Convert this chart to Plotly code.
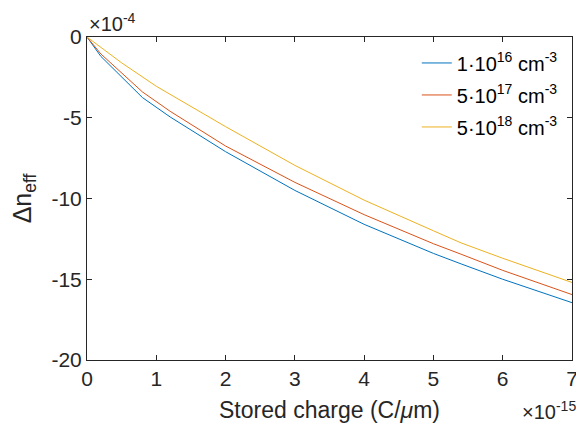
import plotly.graph_objects as go

# Stored charge (x 1e-15 C/um)
charge = [0, 0.2, 0.8, 1.2, 2, 3, 4, 5, 5.4, 6, 7]
# Delta n_eff (x 1e-4)
dn_1e16 = [0, -1.2, -3.75, -4.95, -7.1, -9.5, -11.6, -13.4, -14.05, -15.0, -16.45]
dn_5e17 = [0, -1.05, -3.4, -4.6, -6.75, -9.0, -11.0, -12.8, -13.45, -14.45, -15.95]
charge_y = [0, 0.5, 1, 2, 3, 4, 5, 5.4, 6, 7]
dn_5e18 = [0, -1.6, -3.05, -5.55, -7.95, -10.1, -12.0, -12.75, -13.7, -15.2]

names = ["1·10<sup>16</sup> cm<sup>-3</sup>", "5·10<sup>17</sup> cm<sup>-3</sup>", "5·10<sup>18</sup> cm<sup>-3</sup>"]
colors = ["#0072BD", "#D95319", "#EDB120"]

x_ticks = [0, 1, 2, 3, 4, 5, 6, 7]
y_ticks = [0, -5, -10, -15, -20]

fig = go.Figure()
for i, (xs, ys, nm, c) in enumerate([(charge, dn_1e16, names[0], colors[0]),
                                     (charge, dn_5e17, names[1], colors[1]),
                                     (charge_y, dn_5e18, names[2], colors[2])]):
    fig.add_trace(go.Scatter(x=xs, y=ys, mode="lines", name=nm, legendgroup=f"g{i}",
                             line=dict(color=c, width=1)))

axcol = "#262626"
# page has an 8px body margin: plot area lands at page x 87-572, y 37-360
fig.update_layout(
    width=576, height=416,
    margin=dict(l=79, r=12, t=29, b=64),
    paper_bgcolor="white", plot_bgcolor="white",
    font=dict(family="Liberation Sans, Arial, sans-serif", size=21, color=axcol),
    showlegend=True,
    legend=dict(x=0.68, y=0.98, xanchor="left", yanchor="top",
                bgcolor="rgba(255,255,255,0)", borderwidth=0,
                font=dict(size=20, color="black"), tracegroupgap=3),
    xaxis=dict(range=[0, 7], tickvals=x_ticks, ticktext=[str(v) for v in x_ticks],
               ticks="inside", ticklen=5, tickcolor=axcol, showline=True,
               linecolor=axcol, linewidth=1, mirror="ticks", showgrid=False,
               zeroline=False, automargin=False,
               title=dict(text="Stored charge (C/<i>μ</i>m)", standoff=12,
                          font=dict(size=23))),
    yaxis=dict(range=[-20, 0], tickvals=y_ticks, ticktext=[str(v) for v in y_ticks],
               ticks="inside", ticklen=5, tickcolor=axcol, showline=True,
               linecolor=axcol, linewidth=1, mirror="ticks", showgrid=False,
               zeroline=False, automargin=False,
               title=dict(text="Δn<sub>eff</sub>", standoff=12, font=dict(size=25))),
)
fig.add_annotation(xref="paper", yref="paper", x=0, y=1, xanchor="left", yanchor="bottom",
                   yshift=0, text="×10<sup>-4</sup>", showarrow=False,
                   font=dict(size=20, color=axcol))
fig.add_annotation(xref="paper", yref="paper", x=0.893, y=0, xanchor="left", yanchor="top",
                   yshift=-36, text="×10<sup>-15</sup>", showarrow=False,
                   font=dict(size=20, color=axcol))

fig.write_html("out.html")
